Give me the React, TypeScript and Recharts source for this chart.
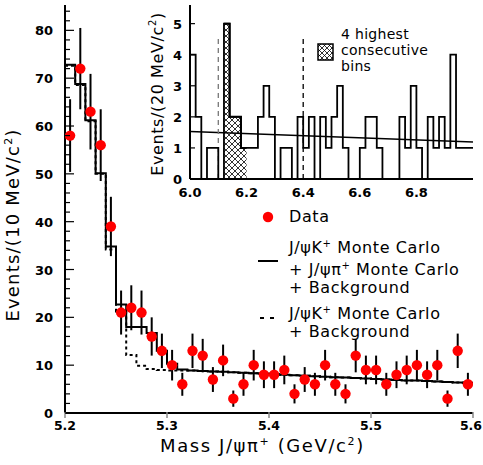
import React from 'react';
import {
  ComposedChart,
  Line,
  Area,
  Scatter,
  ErrorBar,
  XAxis,
  YAxis,
  ReferenceLine,
} from 'recharts';

// main plot: J/psi pi+ mass, 10 MeV bins starting at 5.20
const massStart = 5.2;
const massBin = 0.01;
const dataCounts = [
  58, 72, 63, 56, 39, 21, 22, 21, 16, 13, 10, 6, 13, 12, 7, 11, 3, 6, 10, 8,
  8, 9, 4, 7, 6, 10, 6, 4, 12, 9, 9, 6, 8, 9, 10, 8, 10, 3, 13, 6,
];
const dataErrors = [
  7.6, 8.5, 7.9, 7.5, 6.2, 4.6, 4.7, 4.6, 4.0, 3.6, 3.2, 2.4, 3.6, 3.5, 2.6, 3.3, 1.7, 2.4, 3.2, 2.8,
  2.8, 3.0, 2.0, 2.6, 2.4, 3.2, 2.4, 2.0, 3.5, 3.0, 3.0, 2.4, 2.8, 3.0, 3.2, 2.8, 3.2, 1.7, 3.6, 2.4,
];
// J/psi K+ MC + J/psi pi+ MC + background
const fullMc = [
  72.8, 68.8, 61.2, 50.1, 34.8, 22.7, 18.0, 18.0, 16.7, 13.0, 10.3, 9.1, 8.9, 8.8, 8.7, 8.6, 8.5, 8.4, 8.3, 8.2,
  8.1, 8.0, 7.9, 7.8, 7.7, 7.6, 7.5, 7.4, 7.3, 7.2, 7.1, 7.0, 6.9, 6.8, 6.8, 6.7, 6.6, 6.5, 6.4, 6.3,
];
// J/psi K+ MC + background
const kaonMc = [
  72.6, 68.6, 61.0, 50.0, 34.2, 21.2, 12.1, 9.9, 9.2, 9.0, 8.9, 8.9, 8.9, 8.8, 8.7, 8.6, 8.5, 8.4, 8.3, 8.2,
  8.1, 8.0, 7.9, 7.8, 7.7, 7.6, 7.5, 7.4, 7.3, 7.2, 7.1, 7.0, 6.9, 6.8, 6.8, 6.7, 6.6, 6.5, 6.4, 6.3,
];
const massTicks = [5.2, 5.3, 5.4, 5.5, 5.6];
const eventTicks = [0, 2, 4, 6, 8, 10, 12, 14, 16, 18, 20, 22, 24, 26, 28, 30, 32, 34, 36, 38, 40, 42, 44, 46, 48, 50, 52, 54, 56, 58, 60, 62, 64, 66, 68, 70, 72, 74, 76, 78, 80, 82, 84];

// inset: 20 MeV bins from 6.00 to 7.00
const insetStart = 6.0;
const insetBin = 0.02;
const insetCounts = [
  4, 2, 0, 1, 1, 0, 5, 2, 2, 1, 1, 1, 2, 3, 2, 0, 1, 1, 0, 2,
  1, 2, 0, 2, 1, 2, 3, 1, 0, 0, 1, 2, 2, 1, 0, 0, 0, 2, 1, 3,
  1, 0, 2, 1, 2, 1, 4, 1, 1, 1,
];
const hatchedFirstBin = 6;
const hatchedBins = 4;
const fitLine = [
  { x: 6.0, y: 1.53 },
  { x: 7.0, y: 1.19 },
];
const windowEdges = [6.1, 6.4];
const windowHeight = 4.55;
const insetXTicks = [6.0, 6.2, 6.4, 6.6, 6.8];
const insetYTicks = [0, 1, 2, 3, 4, 5];

const font = '"DejaVu Sans", sans-serif';

// step outline points: one at each bin's low edge, plus the closing edge
const stepPoints = (start: number, width: number, vals: number[]) => {
  const pts = vals.map((v, i) => ({ x: +(start + i * width).toFixed(4), y: v }));
  pts.push({ x: +(start + vals.length * width).toFixed(4), y: vals[vals.length - 1] });
  return pts;
};

const dataPoints = dataCounts.map((c, i) => ({
  x: +(massStart + (i + 0.5) * massBin).toFixed(4),
  y: c,
  err: dataErrors[i],
}));
const fullStep = stepPoints(massStart, massBin, fullMc);
const kaonStep = stepPoints(massStart, massBin, kaonMc);
const insetStep = stepPoints(insetStart, insetBin, insetCounts);
const hatchStep = stepPoints(
  insetStart + hatchedFirstBin * insetBin,
  insetBin,
  insetCounts.slice(hatchedFirstBin, hatchedFirstBin + hatchedBins)
);

const MainYTick = (props: any) => {
  const { x, y, payload } = props;
  const major = payload.value % 10 === 0;
  return (
    <g>
      <line x1={x + 12} x2={x + 12 + (major ? 9 : 5)} y1={y} y2={y} stroke="#000" strokeWidth={1.2} />
      {major && (
        <text x={x} y={y + 5} textAnchor="end" fontSize={13} fontWeight="bold" fontFamily={font} fill="#000">
          {payload.value}
        </text>
      )}
    </g>
  );
};

const MainXTick = (props: any) => {
  const { x, y, payload } = props;
  const last = payload.value === massTicks[massTicks.length - 1];
  return (
    <g>
      <line x1={x} x2={x} y1={y - 3} y2={y - 9} stroke="#888" strokeWidth={1.5} />
      <text x={last ? x - 2 : x} y={y + 9} textAnchor="middle" fontSize={12.5} fontWeight="bold" fontFamily={font} fill="#000">
        {payload.value.toFixed(1)}
      </text>
    </g>
  );
};

const InsetYTick = (props: any) => {
  const { x, y, payload } = props;
  return (
    <g>
      {payload.value > 0 && <line x1={x + 8} x2={x + 13} y1={y} y2={y} stroke="#000" strokeWidth={1.2} />}
      <text x={x} y={y + 5} textAnchor="end" fontSize={13} fontWeight="bold" fontFamily={font} fill="#000">
        {payload.value}
      </text>
    </g>
  );
};

const InsetXTick = (props: any) => {
  const { x, y, payload } = props;
  return (
    <text x={x} y={y + 10} textAnchor="middle" fontSize={13} fontWeight="bold" fontFamily={font} fill="#000">
      {payload.value.toFixed(1)}
    </text>
  );
};

const DataDot = (props: any) => <circle cx={props.cx} cy={props.cy} r={5.2} fill="#ff0000" />;

const abs = (left: number, top: number): React.CSSProperties => ({
  position: 'absolute',
  left,
  top,
  fontFamily: font,
  color: '#000',
  whiteSpace: 'nowrap',
  lineHeight: 1,
});

const HatchIcon = () => (
  <svg width={17} height={18} style={{ position: 'absolute', left: 317, top: 43 }}>
    <defs>
      <pattern id="hatchIcon" width="5" height="5" patternUnits="userSpaceOnUse">
        <path d="M0,0 L5,5 M5,0 L0,5" stroke="#000" strokeWidth={0.8} />
      </pattern>
    </defs>
    <rect x={1} y={1} width={15} height={16} fill="url(#hatchIcon)" stroke="#000" strokeWidth={1.5} />
  </svg>
);

export default function App() {
  return (
    <div style={{ position: 'absolute', left: 0, top: 0, width: 483, height: 465, background: '#fff' }}>
      <ComposedChart width={483} height={465} margin={{ top: 5, right: 10, left: 15, bottom: 22 }}>
        <XAxis
          dataKey="x"
          type="number"
          domain={[5.2, 5.6]}
          ticks={massTicks}
          allowDataOverflow
          tick={<MainXTick />}
          tickLine={false}
          axisLine={{ stroke: '#000', strokeWidth: 2 }}
          height={30}
        />
        <XAxis xAxisId="top" orientation="top" type="number" domain={[5.2, 5.6]} tick={false} tickLine={false} height={0} axisLine={{ stroke: '#000', strokeWidth: 2 }} />
        <YAxis
          type="number"
          domain={[0, 85.3]}
          ticks={eventTicks}
          allowDataOverflow
          interval={0}
          tick={<MainYTick />}
          tickLine={false}
          tickSize={0}
          tickMargin={12}
          axisLine={{ stroke: '#000', strokeWidth: 2 }}
          width={50}
        />
        <YAxis yAxisId="right" orientation="right" type="number" domain={[0, 85.3]} tick={false} tickLine={false} width={0} axisLine={{ stroke: '#000', strokeWidth: 2 }} />
        <Line data={kaonStep} dataKey="y" type="stepAfter" stroke="#000" strokeWidth={2} strokeDasharray="3 3" dot={false} isAnimationActive={false} />
        <Line data={fullStep} dataKey="y" type="stepAfter" stroke="#000" strokeWidth={2} dot={false} isAnimationActive={false} />
        <Scatter data={dataPoints} dataKey="y" shape={<DataDot />} isAnimationActive={false}>
          <ErrorBar dataKey="err" direction="y" width={0} stroke="#000" strokeWidth={2} />
        </Scatter>
      </ComposedChart>

      {/* inset */}
      <div style={{ position: 'absolute', left: 130, top: 0 }}>
        <ComposedChart width={353} height={200} margin={{ top: 5, right: 10, left: 15, bottom: 0 }}>
          <defs>
            <pattern id="hatch" width="6" height="6" patternUnits="userSpaceOnUse">
              <rect width="6" height="6" fill="#fff" />
              <path d="M0,0 L6,6 M6,0 L0,6" stroke="#000" strokeWidth={0.8} />
            </pattern>
          </defs>
          <XAxis
            dataKey="x"
            type="number"
            domain={[6.0, 7.0]}
            ticks={insetXTicks}
            allowDataOverflow
            tick={<InsetXTick />}
            tickLine={false}
            axisLine={{ stroke: '#000', strokeWidth: 2 }}
            height={21}
          />
          <XAxis xAxisId="top" orientation="top" type="number" domain={[6.0, 7.0]} tick={false} tickLine={false} height={0} axisLine={{ stroke: '#000', strokeWidth: 2 }} />
          <YAxis
            type="number"
            domain={[0, 5.6]}
            ticks={insetYTicks}
            allowDataOverflow
            tick={<InsetYTick />}
            tickLine={false}
            tickSize={0}
            tickMargin={8}
            axisLine={{ stroke: '#000', strokeWidth: 2 }}
            width={45}
          />
          <YAxis yAxisId="right" orientation="right" type="number" domain={[0, 5.6]} tick={false} tickLine={false} width={0} axisLine={{ stroke: '#000', strokeWidth: 2 }} />
          <Line data={fitLine} dataKey="y" type="linear" stroke="#000" strokeWidth={1.5} dot={false} isAnimationActive={false} />
          <Area data={hatchStep} dataKey="y" type="stepAfter" fill="url(#hatch)" fillOpacity={1} stroke="#000" strokeWidth={2} baseValue={0} isAnimationActive={false} />
          {windowEdges.map((e, i) => (
            <ReferenceLine
              key={e}
              segment={[{ x: e, y: 0 }, { x: e, y: windowHeight }]}
              stroke={i === 0 ? '#777' : '#000'}
              strokeWidth={1.3}
              strokeDasharray="5 4"
            />
          ))}
          <Line data={insetStep} dataKey="y" type="stepAfter" stroke="#000" strokeWidth={1.8} dot={false} isAnimationActive={false} />
        </ComposedChart>
      </div>

      {/* axis titles */}
      <div style={{ ...abs(160, 436), fontSize: 18, letterSpacing: 1.6 }}>
        Mass J/ψπ<sup style={{ fontSize: 11 }}>+</sup> (GeV/c<sup style={{ fontSize: 11 }}>2</sup>)
      </div>
      <div style={{ ...abs(12, 225), fontSize: 18, letterSpacing: 1.2, transform: 'translate(-50%, -50%) rotate(-90deg)' }}>
        Events/(10 MeV/c<sup style={{ fontSize: 11 }}>2</sup>)
      </div>
      <div style={{ ...abs(157, 94), fontSize: 16, letterSpacing: 0.6, transform: 'translate(-50%, -50%) rotate(-90deg)' }}>
        Events/(20 MeV/c<sup style={{ fontSize: 10 }}>2</sup>)
      </div>

      {/* inset legend */}
      <HatchIcon />
      <div style={{ ...abs(341, 26), fontSize: 14, letterSpacing: 0.3, lineHeight: '16px' }}>
        4 highest<br />consecutive<br />bins
      </div>

      {/* main legend */}
      <svg width={30} height={130} style={{ position: 'absolute', left: 255, top: 205 }}>
        <circle cx={13} cy={12} r={5.2} fill="#ff0000" />
        <line x1={3} x2={23} y1={56} y2={56} stroke="#000" strokeWidth={2} />
        <line x1={5} x2={19} y1={113} y2={113} stroke="#000" strokeWidth={2} strokeDasharray="4 6" />
      </svg>
      <div style={{ ...abs(289, 209), fontSize: 16, letterSpacing: 0.6 }}>Data</div>
      <div style={{ ...abs(289, 235), fontSize: 16, letterSpacing: 0.6, lineHeight: '17.5px' }}>
        J/ψK<sup style={{ fontSize: 10 }}>+</sup> Monte Carlo
        <br />+ J/ψπ<sup style={{ fontSize: 10 }}>+</sup> Monte Carlo
        <br />+ Background
      </div>
      <div style={{ ...abs(289, 301), fontSize: 16, letterSpacing: 0.6, lineHeight: '17.5px' }}>
        J/ψK<sup style={{ fontSize: 10 }}>+</sup> Monte Carlo
        <br />+ Background
      </div>
    </div>
  );
}
